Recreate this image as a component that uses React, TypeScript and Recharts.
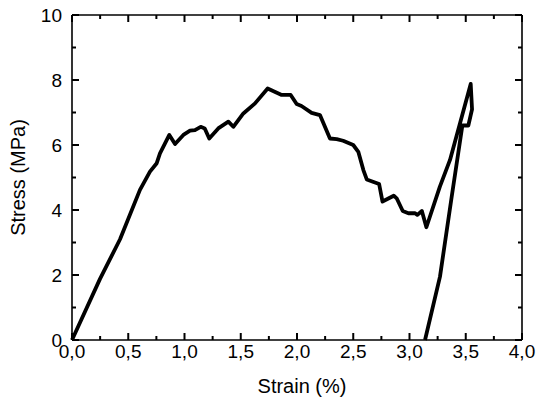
import React from 'react';
import { LineChart, Line, XAxis, YAxis } from 'recharts';

// strain (%) / stress (MPa), in test order (load, unload)
const strain = [
  0, 0.249, 0.427, 0.604, 0.693, 0.753, 0.782, 0.865, 0.916, 0.99, 1.049, 1.093, 1.144, 1.18,
  1.22, 1.3, 1.39, 1.434, 1.523, 1.627, 1.739, 1.864, 1.944, 1.997, 2.04, 2.13, 2.204, 2.293,
  2.353, 2.41, 2.5, 2.545, 2.59, 2.62, 2.73, 2.76, 2.86, 2.886, 2.94, 2.99, 3.05, 3.07, 3.11,
  3.15, 3.27, 3.36, 3.449, 3.544, 3.556, 3.523, 3.47, 3.375, 3.271, 3.138,
];
const stress = [
  0, 1.88, 3.1, 4.62, 5.18, 5.44, 5.74, 6.31, 6.03, 6.31, 6.44, 6.46, 6.56, 6.51,
  6.2, 6.51, 6.72, 6.56, 6.97, 7.28, 7.74, 7.54, 7.54, 7.26, 7.2, 6.99, 6.92, 6.2,
  6.18, 6.13, 6.0, 5.79, 5.23, 4.94, 4.8, 4.26, 4.44, 4.36, 3.97, 3.9, 3.9, 3.85, 3.97,
  3.47, 4.72, 5.54, 6.67, 7.88, 7.1, 6.6, 6.6, 4.41, 1.95, 0,
];

const xTicks = [0, 0.25, 0.5, 0.75, 1, 1.25, 1.5, 1.75, 2, 2.25, 2.5, 2.75, 3, 3.25, 3.5, 3.75, 4];
const yTicks = [0, 1, 2, 3, 4, 5, 6, 7, 8, 9, 10];

const data = strain.map((s, i) => ({ strain: s, stress: stress[i] }));

const FONT = 'Liberation Sans, Arial, sans-serif';
const isMajorX = (v: number) => Math.abs(v * 2 - Math.round(v * 2)) < 1e-6;
const isMajorY = (v: number) => Math.round(v) % 2 === 0;

const BottomTick = (props: any) => {
  const { x, y, payload } = props;
  const major = isMajorX(payload.value);
  return (
    <g>
      <path d={`M${x},${y}V${y - (major ? 7 : 4)}`} stroke="#000" strokeWidth={2} fill="none" />
      {major && (
        <text x={x} y={y + 18} textAnchor="middle" fontSize={19} fontFamily={FONT} fill="#000">
          {payload.value.toFixed(1).replace('.', ',')}
        </text>
      )}
    </g>
  );
};

const TopTick = (props: any) => {
  const { x, y, payload } = props;
  const major = isMajorX(payload.value);
  return <path d={`M${x},${y}V${y + (major ? 7 : 4)}`} stroke="#000" strokeWidth={2} fill="none" />;
};

const LeftTick = (props: any) => {
  const { x, y, payload } = props;
  const major = isMajorY(payload.value);
  return (
    <g>
      <path d={`M${x},${y}H${x + (major ? 7 : 4)}`} stroke="#000" strokeWidth={2} fill="none" />
      {major && (
        <text x={x - 10} y={y + 7} textAnchor="end" fontSize={19} fontFamily={FONT} fill="#000">
          {payload.value}
        </text>
      )}
    </g>
  );
};

const RightTick = (props: any) => {
  const { x, y, payload } = props;
  const major = isMajorY(payload.value);
  return <path d={`M${x},${y}H${x - (major ? 7 : 4)}`} stroke="#000" strokeWidth={2} fill="none" />;
};

const YTitle = (props: any) => {
  const vb = props.viewBox;
  const cx = vb.x + 25;
  const cy = vb.y + vb.height / 2;
  return (
    <text x={cx} y={cy} transform={`rotate(-90 ${cx} ${cy})`} textAnchor="middle" fontSize={20} fontFamily={FONT} fill="#000">
      Stress (MPa)
    </text>
  );
};

const XTitle = (props: any) => {
  const vb = props.viewBox;
  return (
    <text x={vb.x + vb.width / 2 + 5} y={vb.y + 53} textAnchor="middle" fontSize={20} fontFamily={FONT} fill="#000">
      Strain (%)
    </text>
  );
};

const axisLine = { stroke: '#000', strokeWidth: 1.6 };

export default function App() {
  return (
    <div style={{ position: 'absolute', left: 0, top: 0, background: '#fff' }}>
      <LineChart width={537} height={400} data={data} margin={{ top: 14, right: 14, bottom: 0, left: 0 }}>
        <XAxis
          dataKey="strain"
          type="number"
          domain={[0, 4]}
          ticks={xTicks}
          interval={0}
          height={60}
          tickSize={0}
          tickMargin={0}
          tickLine={false}
          axisLine={axisLine}
          tick={<BottomTick />}
          label={{ content: <XTitle /> }}
        />
        <XAxis
          xAxisId="top"
          dataKey="strain"
          orientation="top"
          type="number"
          domain={[0, 4]}
          ticks={xTicks}
          interval={0}
          height={1}
          tickSize={0}
          tickMargin={0}
          tickLine={false}
          axisLine={axisLine}
          tick={<TopTick />}
        />
        <YAxis
          type="number"
          domain={[0, 10]}
          ticks={yTicks}
          interval={0}
          width={72}
          tickSize={0}
          tickMargin={0}
          tickLine={false}
          axisLine={axisLine}
          tick={<LeftTick />}
          label={{ content: <YTitle /> }}
        />
        <YAxis
          yAxisId="right"
          orientation="right"
          type="number"
          domain={[0, 10]}
          ticks={yTicks}
          interval={0}
          width={1}
          tickSize={0}
          tickMargin={0}
          tickLine={false}
          axisLine={axisLine}
          tick={<RightTick />}
        />
        {/* invisible copy so the mirrored top/right axes share the scales */}
        <Line xAxisId="top" yAxisId="right" dataKey="stress" stroke="transparent" dot={false} activeDot={false} isAnimationActive={false} />
        <Line
          type="linear"
          dataKey="stress"
          stroke="#000"
          strokeWidth={3.8}
          strokeLinejoin="round"
          dot={false}
          isAnimationActive={false}
        />
      </LineChart>
    </div>
  );
}
